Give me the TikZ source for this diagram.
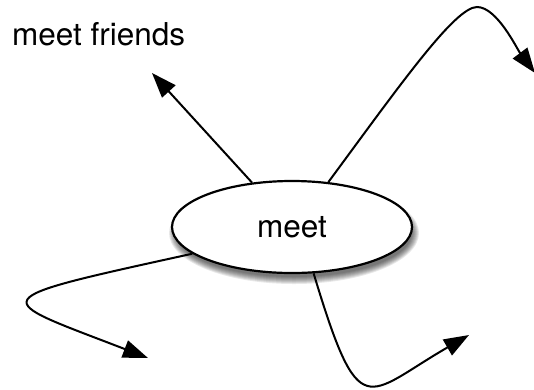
\documentclass[tikz,border=0pt]{standalone}
\usepackage{fontspec}
\setmainfont{TeX Gyre Heros}
\usetikzlibrary{arrows.meta,shapes.geometric}
\begin{document}
\begin{tikzpicture}[x=1pt,y=-1pt,
  lbl/.style={font=\fontsize{31.5}{36}\selectfont, inner sep=0pt},
  conn/.style={line width=2pt, -{Triangle[length=25pt,width=18pt]}},
  mainellipse/.style={ellipse, draw, line width=2.2pt, fill=white,
    minimum width=240pt, minimum height=92pt, inner sep=0pt,
    font=\fontsize{31.5}{36}\selectfont}]
\useasboundingbox (0,0) rectangle (534,389);
% blurred shadow
\foreach \k in {-2,...,5}{
  \fill[black, opacity=0.09] (294,233) ellipse [x radius=120+\k, y radius=46+\k];
}
\node[mainellipse] (m) at (292,227) {meet};
\node[lbl, anchor=base west] (mf) at (12,45) {meet friends};
\coordinate (t1) at (152,73);
\coordinate (t2) at (535,73);
\coordinate (p2) at (477,7);
\coordinate (t3) at (148,358);
\coordinate (t4) at (469,335);
\draw[conn] (m.132) -- (t1);
\draw[conn] (m.51) .. controls (400,85) and (455,7) .. (p2)
  .. controls (497,7) and (517,49) .. (t2);
\draw[conn] (m.195.6) .. controls (-23,301) and (-10,297) .. (t3);
\draw[conn] (m.295.6) .. controls (360,427) and (365,395) .. (t4);
\end{tikzpicture}
\end{document}
